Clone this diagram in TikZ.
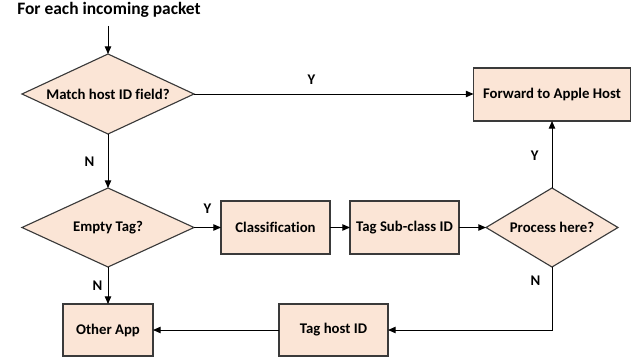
\documentclass[tikz,border=0pt]{standalone}
\usepackage{fontspec}
\setmainfont{Carlito}[Ligatures=NoCommon]
\usepackage{xcolor}
\definecolor{peach}{HTML}{FBE5D6}
\definecolor{edgegray}{HTML}{3A3A3A}
\usepackage{tikz}
\usetikzlibrary{shapes.geometric, arrows.meta, positioning}
\tikzset{
  procbox/.style={rectangle, draw=edgegray, line width=0.8pt, fill=peach, text=black, align=center,
                  inner sep=3pt, outer sep=0pt, minimum width=2.725cm, minimum height=1.325cm,
                  font=\fontsize{10.5}{12}\selectfont\bfseries},
  decbox/.style ={diamond, draw=edgegray, line width=0.8pt, fill=peach, text=black, align=center,
                  inner sep=0pt, outer sep=0pt, aspect=2.15, minimum width=4.3cm, minimum height=2cm,
                  font=\fontsize{10.5}{12}\selectfont\bfseries},
  flowarr/.style={-{Triangle[length=1.9mm, width=1.6mm]}, line width=0.7pt, color=black},
  flowlbl/.style={font=\fontsize{10.5}{12}\selectfont\bfseries, text=black, inner sep=1pt},
}
\begin{document}
\begin{tikzpicture}
  \useasboundingbox (0,0) rectangle (15.925,-8.95);
  \node[font=\fontsize{12.4}{14}\selectfont\bfseries, inner sep=0pt] (title) at (2.725,-0.24) {For each incoming packet};
  \coordinate (in) at (2.7,-0.65);

  % top row
  \node[decbox] (match) at (2.7,-2.35) {Match host ID field?};
  % middle row
  \node[decbox, minimum height=1.975cm, below=1.35cm of match] (empty) {Empty Tag?};
  \node[procbox, right=0.675cm of empty] (classif) {Classification};
  \node[procbox, right=0.5cm of classif] (tagsub) {Tag Sub-class ID};
  \node[decbox, aspect=1.67, minimum width=3.3cm, minimum height=1.975cm, right=0.675cm of tagsub] (process) {Process here?};
  \node[procbox, minimum width=3.925cm, above=1.675cm of process] (forward) {Forward to Apple Host};
  % bottom row
  \node[procbox, minimum width=2.25cm, minimum height=1.3cm, below=0.925cm of empty] (other) {Other App};
  \node[procbox, minimum height=1.3cm, right=3.15cm of other] (taghost) {Tag host ID};

  \draw[flowarr] (in) -- (match);
  \draw[flowarr] (match.east) -- node[flowlbl, above=5.6pt, pos=0.42] {Y} (match.east -| forward.west);
  \draw[flowarr] (match) -- node[flowlbl, left=8.3pt, pos=0.52] {N} (empty);
  \draw[flowarr] (empty) -- node[flowlbl, above=8.4pt] {Y} (classif);
  \draw[flowarr] (empty) -- node[flowlbl, left=2.6pt] {N} (other);
  \draw[flowarr] (classif) -- (tagsub);
  \draw[flowarr] (tagsub) -- (process);
  \draw[flowarr] (process) -- node[flowlbl, left=8.2pt, pos=0.48] {Y} (forward);
  \draw[flowarr] (process.south) |- node[flowlbl, left=6.9pt, pos=0.11] {N} (taghost.east);
  \draw[flowarr] (taghost) -- (other);
\end{tikzpicture}
\end{document}
